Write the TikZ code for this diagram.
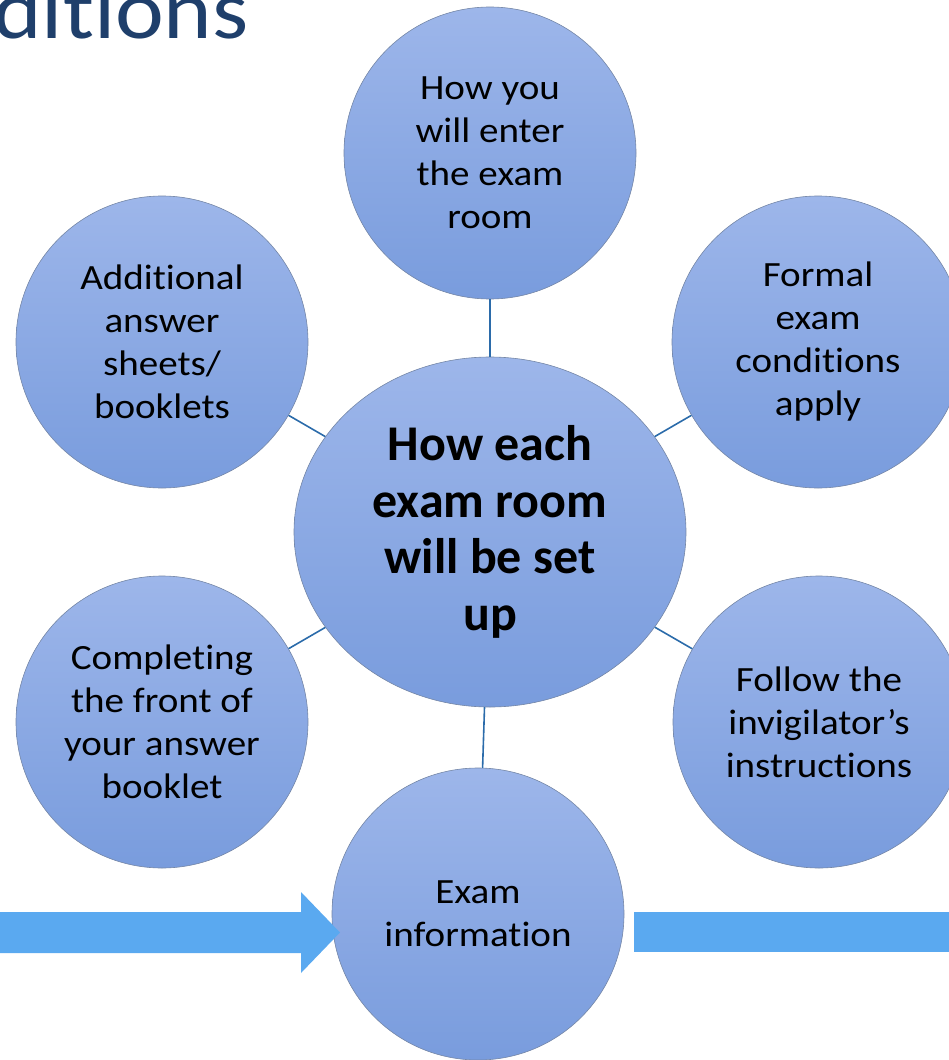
\documentclass[tikz,border=0pt]{standalone}
\usepackage{fontspec}
\setmainfont{Carlito}[RawFeature={-liga;-clig;-dlig;-calt}]
\newfontfamily\bubblefont{Carlito}[FakeStretch=1.1, RawFeature={-liga;-clig;-dlig;-calt}]
\newfontfamily\titlefont{Carlito}[FakeStretch=1.1, RawFeature={-liga;-clig;-dlig;-calt}]
\usetikzlibrary{shapes.geometric, positioning}
\definecolor{bubbletop}{HTML}{9DB6EA}
\definecolor{bubblebottom}{HTML}{799CDD}
\definecolor{bubbleedge}{HTML}{7486A6}
\definecolor{linkblue}{HTML}{2B6BAA}
\definecolor{arrowblue}{HTML}{5AA9F0}
\definecolor{titlenavy}{HTML}{1F3F6B}

\begin{document}
\begin{tikzpicture}[x=1pt, y=-1pt,
    bubble/.style={circle, minimum size=292pt, inner sep=0pt, top color=bubbletop, bottom color=bubblebottom,
                   draw=bubbleedge, line width=0.6pt, align=center, font=\bubblefont\fontsize{35.5}{43}\selectfont},
    hub/.style={ellipse, minimum width=392pt, minimum height=350pt, inner sep=0pt, top color=bubbletop, bottom color=bubblebottom,
                draw=bubbleedge, line width=0.6pt, align=center, font=\bfseries\fontsize{50}{56.7}\selectfont},
    link/.style={draw=linkblue, line width=1.6pt}]
    \useasboundingbox (0,0) rectangle (949,1060);
    \clip (0,0) rectangle (949,1060);

    % Heading, cut off by the frame
    \node[anchor=base east, inner sep=0pt, text=titlenavy, font=\titlefont\fontsize{84}{84}\selectfont] (heading) at (249,38) {Exam conditions};

    % Hub
    \node[hub] (hub) at (490,532) {How each\\exam room\\will be set\\up};

    % Bubbles round the hub
    \node[bubble] (enter)   at (490,153) {How you\\will enter\\the exam\\room};
    \node[bubble] (formal)  at (818,342) {Formal\\exam\\conditions\\apply};
    \node[bubble] (follow)  at (819,722) {Follow the\\invigilator’s\\instructions};
    \node[bubble] (info)    at (478,914) {Exam\\information};
    \node[bubble] (front)   at (162,722) {Completing\\the front of\\your answer\\booklet};
    \node[bubble] (sheets)  at (162,342) {Additional\\answer\\sheets/\\booklets};

    % Links
    \draw[link] (hub) -- (enter);
    \draw[link] (hub) -- (formal);
    \draw[link] (hub) -- (follow);
    \draw[link] (hub) -- (info);
    \draw[link] (hub) -- (front);
    \draw[link] (hub) -- (sheets);

    % Arrow in, bar out
    \fill[arrowblue] (0,912) -- (301,912) -- (301,892) -- (340,932.5) -- (301,973) -- (301,953) -- (0,953) -- cycle;
    \fill[arrowblue] (634,912) rectangle (949,952);
\end{tikzpicture}
\end{document}
